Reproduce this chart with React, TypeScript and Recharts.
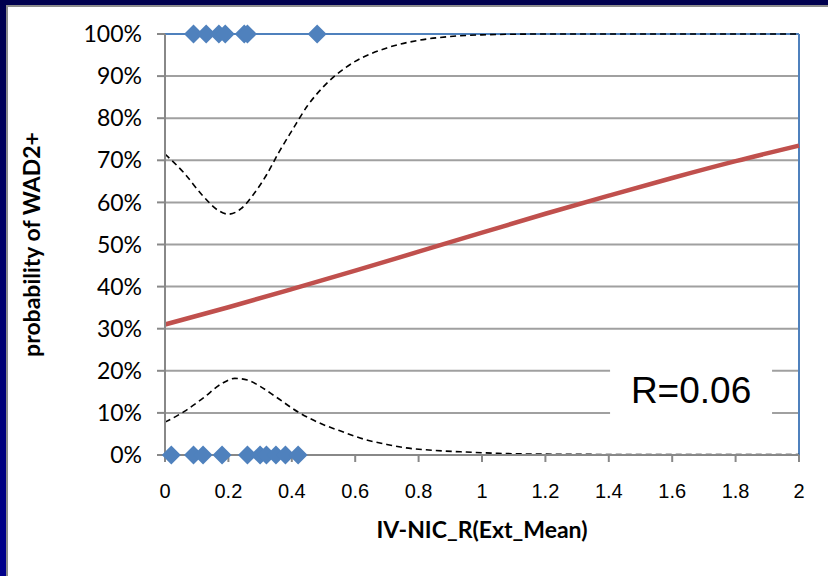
import React from 'react';
import {
  ComposedChart,
  Line,
  Scatter,
  XAxis,
  YAxis,
  CartesianGrid,
  ReferenceLine,
  ReferenceArea,
  Label,
} from 'recharts';

// fitted probability (red line)
const fitX = [0, 0.2, 0.4, 0.6, 0.8, 1.0, 1.2, 1.4, 1.6, 1.8, 2.0];
const fitProb = [31, 35.1, 39.4, 43.8, 48.3, 52.8, 57.3, 61.6, 65.8, 69.8, 73.5];

// upper confidence band (dashed)
const upperX = [0, 0.06, 0.12, 0.17, 0.2, 0.24, 0.28, 0.32, 0.36, 0.4, 0.45, 0.5, 0.56, 0.6, 0.7, 0.8, 0.9, 1.0, 1.2, 1.6, 2.0];
const upperProb = [71.5, 67, 61.5, 58, 57.2, 58.5, 62, 66.5, 72, 77, 83, 87.5, 91.5, 93.5, 96.7, 98.5, 99.4, 99.8, 100, 100, 100];

// lower confidence band (dashed)
const lowerX = [0, 0.06, 0.12, 0.18, 0.22, 0.26, 0.3, 0.35, 0.42, 0.5, 0.55, 0.63, 0.7, 0.75, 0.85, 0.95, 1.05, 1.2, 1.6, 2.0];
const lowerProb = [7.8, 10.3, 13.5, 17, 18.2, 17.8, 16.3, 13.8, 10.2, 7.2, 5.8, 3.7, 2.5, 1.8, 1.1, 0.7, 0.4, 0.2, 0.1, 0.1];

// observed cases
const withWad = [0.09, 0.13, 0.17, 0.19, 0.25, 0.26, 0.48];
const withoutWad = [0.02, 0.09, 0.12, 0.18, 0.26, 0.3, 0.32, 0.35, 0.38, 0.42];

const xTicks = [0, 0.2, 0.4, 0.6, 0.8, 1, 1.2, 1.4, 1.6, 1.8, 2];
const yTicks = [0, 10, 20, 30, 40, 50, 60, 70, 80, 90, 100];

const fitData = fitX.map((x, i) => ({ x, y: fitProb[i] }));
const upperData = upperX.map((x, i) => ({ x, y: upperProb[i] }));
const lowerData = lowerX.map((x, i) => ({ x, y: lowerProb[i] }));
const pointsData = [
  ...withWad.map((x) => ({ x, y: 100 })),
  ...withoutWad.map((x) => ({ x, y: 0 })),
];

const Diamond = (props: any) => {
  const { cx, cy } = props;
  const r = 9.5;
  return (
    <polygon
      points={`${cx},${cy - r} ${cx + r},${cy} ${cx},${cy + r} ${cx - r},${cy}`}
      fill="#4f81bd"
    />
  );
};

const axisGray = '#888888';

const App: React.FC = () => {
  return (
    <div style={{ position: 'fixed', top: 0, left: 0, width: 828, height: 576, background: '#fff', overflow: 'hidden' }}>
      {/* slide frame */}
      <div style={{ position: 'absolute', top: 0, left: 0, width: 828, height: 5, background: '#00004f' }} />
      <div style={{ position: 'absolute', top: 5, left: 6, width: 822, height: 2, background: '#8c8c8c' }} />
      <div
        style={{
          position: 'absolute',
          top: 0,
          left: 0,
          width: 6,
          height: 576,
          background: 'linear-gradient(#00004f, #00008c)',
        }}
      />
      <div style={{ position: 'absolute', top: 5, left: 6, width: 2, height: 571, background: '#8c8c8c' }} />

      <div style={{ position: 'absolute', top: 0, left: 0 }}>
        <ComposedChart width={828} height={576} margin={{ top: 34, right: 29, bottom: 0, left: 0 }}>
          <CartesianGrid vertical={false} stroke="#a0a0a0" strokeWidth={2} />
          <XAxis
            type="number"
            dataKey="x"
            domain={[0, 2]}
            ticks={xTicks}
            interval={0}
            height={121}
            tickSize={7}
            tickMargin={22}
            axisLine={{ stroke: axisGray, strokeWidth: 2 }}
            tickLine={{ stroke: axisGray, strokeWidth: 2 }}
            tick={{ fill: '#000', fontSize: 20, fontFamily: 'Liberation Sans, Arial, sans-serif' }}
          >
            <Label
              value="IV-NIC_R(Ext_Mean)"
              position="insideBottom"
              offset={38}
              style={{ fill: '#000', fontSize: 23, fontWeight: 700, fontFamily: 'Lato, sans-serif' }}
            />
          </XAxis>
          <YAxis
            type="number"
            domain={[0, 100]}
            ticks={yTicks}
            interval={0}
            width={165}
            tickSize={8}
            tickMargin={15}
            tickFormatter={(v: number) => `${v}%`}
            axisLine={{ stroke: axisGray, strokeWidth: 2 }}
            tickLine={{ stroke: axisGray, strokeWidth: 2 }}
            tick={{ fill: '#000', fontSize: 23, fontFamily: 'Lato, sans-serif' }}
          >
            <Label
              value="probability of WAD2+"
              angle={-90}
              position="insideLeft"
              offset={32}
              style={{ textAnchor: 'middle', fill: '#000', fontSize: 23, fontWeight: 700, fontFamily: 'Lato, sans-serif' }}
            />
          </YAxis>
          <ReferenceArea x1={1.404} x2={1.915} y1={7} y2={24} fill="#fff" fillOpacity={1} stroke="none">
            <Label
              value="R=0.06"
              position="center"
              style={{ fill: '#000', fontSize: 37, fontFamily: 'Liberation Sans, Arial, sans-serif' }}
            />
          </ReferenceArea>
          <ReferenceLine y={100} stroke="#4f81bd" strokeWidth={2} />
          <ReferenceLine x={2} stroke="#4f81bd" strokeWidth={2} />
          <Line
            data={fitData}
            dataKey="y"
            type="monotone"
            stroke="#c0504d"
            strokeWidth={4.5}
            dot={false}
            isAnimationActive={false}
          />
          <Line
            data={upperData}
            dataKey="y"
            type="monotone"
            stroke="#000"
            strokeWidth={1.6}
            strokeDasharray="6 4"
            dot={false}
            isAnimationActive={false}
          />
          <Line
            data={lowerData}
            dataKey="y"
            type="monotone"
            stroke="#000"
            strokeWidth={1.6}
            strokeDasharray="6 4"
            dot={false}
            isAnimationActive={false}
          />
          <Scatter data={pointsData} dataKey="y" shape={<Diamond />} isAnimationActive={false} />
        </ComposedChart>
      </div>
    </div>
  );
};

export default App;
